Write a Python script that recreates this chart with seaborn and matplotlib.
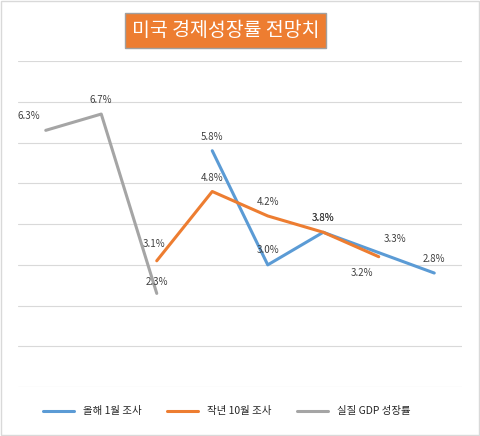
import matplotlib
matplotlib.use("Agg")
import matplotlib.pyplot as plt
import seaborn as sns
import pandas as pd
import numpy as np

sns.set_theme(style="white")
plt.rcParams['font.family'] = ['Noto Sans CJK KR', 'DejaVu Sans']

positions = list(range(8))
gray_x = [0, 1, 2]
gray_v = [6.3, 6.7, 2.3]
orange_x = [2, 3, 4, 5, 6]
orange_v = [3.1, 4.8, 4.2, 3.8, 3.2]
blue_x = [3, 4, 5, 6, 7]
blue_v = [5.8, 3.0, 3.8, 3.3, 2.8]
names = ["올해 1월 조사", "작년 10월 조사", "실질 GDP 성장률"]
colors = ["#5B9BD5", "#ED7D31", "#A5A5A5"]

fig = plt.figure(figsize=(4.8, 4.36), dpi=100)
ax = fig.add_axes([0.0375, 0.112, 0.925, 0.748])

series = [(blue_x, blue_v), (orange_x, orange_v), (gray_x, gray_v)]
for (xs, vs), n, c in zip(series, names, colors):
    df = pd.DataFrame({"x": xs, "v": vs})
    sns.lineplot(data=df, x="x", y="v", ax=ax, color=c, linewidth=2.2, label=n)

def annot(xs, vs, offs):
    for x, v, o in zip(xs, vs, offs):
        ax.annotate(f"{v:.1f}%", (x, v), xytext=o, textcoords="offset points",
                    ha="center", va="center", fontsize=7, color="#404040")

annot(gray_x, gray_v, [(-12, 10), (0, 10), (0, 8)])
annot(orange_x, orange_v, [(-2, 12), (0, 10), (0, 10), (0, 10), (-12, -12)])
annot(blue_x, blue_v, [(0, 10), (0, 11), (0, 10), (12, 10), (0, 10)])

ax.set_xlim(-0.5, 7.5)
ax.set_ylim(0, 8)
ax.set_yticks(np.arange(0, 9, 1))
ax.set_xticks([])
ax.set_yticklabels([])
ax.tick_params(left=False)
ax.grid(axis="y", color="#D9D9D9", linewidth=0.8)
for s in ax.spines.values():
    s.set_visible(False)
ax.set_xlabel("")
ax.set_ylabel("")

ax.legend(loc="upper center", bbox_to_anchor=(0.47, -0.03), ncol=3, frameon=False,
          fontsize=7.5, handlelength=3, columnspacing=2.5)

fig.text(0.47, 0.93, "미국 경제성장률 전망치", ha="center", va="center", color="white",
         fontsize=14, bbox=dict(boxstyle="square,pad=0.35", facecolor="#ED7D31", edgecolor="#A0A0A0"))

fig.patches.append(plt.Rectangle((0.002, 0.002), 0.996, 0.996, transform=fig.transFigure,
                                 fill=False, edgecolor="#D9D9D9", linewidth=1))

fig.savefig("out.png", dpi=100)
